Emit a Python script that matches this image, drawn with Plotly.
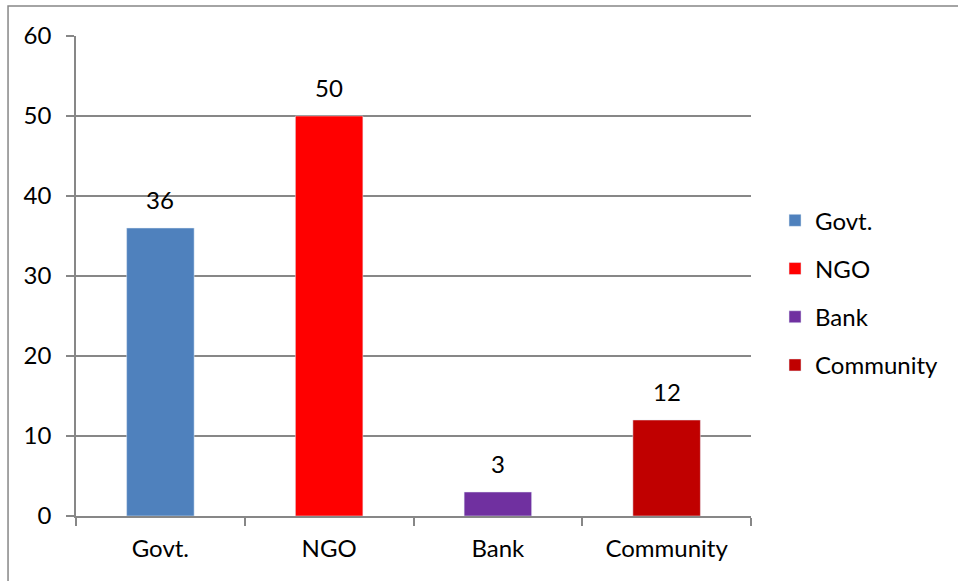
import plotly.graph_objects as go

# Funding source counts
categories = ["Govt.", "NGO", "Bank", "Community"]
values = [36, 50, 3, 12]
colors = ["#4F81BD", "#FF0000", "#7030A0", "#C00000"]
y_ticks = [0, 10, 20, 30, 40, 50, 60]

FONT = "Lato, Carlito, Calibri, sans-serif"
FS = 24
GRID = "#878787"

fig = go.Figure()
for i, (cat, val, col) in enumerate(zip(categories, values, colors)):
    fig.add_trace(go.Bar(
        x=[cat], y=[val], name=cat, marker_color=col, width=0.4,
        legendgroup=f"g{i}", showlegend=True,
    ))
    fig.add_annotation(
        x=cat, y=val, text=str(val), showarrow=False,
        yanchor="bottom", yshift=12, font=dict(size=FS, color="black", family=FONT),
    )

fig.update_layout(
    width=958, height=581,
    margin=dict(l=76, r=207, t=36, b=65),
    paper_bgcolor="white", plot_bgcolor="white",
    barmode="overlay",
    font=dict(family=FONT, size=FS, color="black"),
    legend=dict(
        x=1.0356, xanchor="left", y=0.662, yanchor="top",
        tracegroupgap=14, font=dict(size=FS), bgcolor="rgba(0,0,0,0)",
    ),
    xaxis=dict(
        categoryorder="array", categoryarray=categories,
        showline=True, linecolor=GRID, linewidth=1.5,
        ticks="outside", ticklen=8, tickcolor=GRID, tickwidth=1.5,
        tickson="boundaries", showgrid=False, ticklabelstandoff=10,
        tickfont=dict(size=FS),
    ),
    yaxis=dict(
        range=[0, 60], tickvals=y_ticks, showline=True, linecolor=GRID, linewidth=1.5,
        ticks="outside", ticklen=8, tickcolor=GRID, tickwidth=1.5,
        showgrid=True, gridcolor=GRID, gridwidth=1.5, zeroline=False,
        ticklabelstandoff=10, tickfont=dict(size=FS),
    ),
    shapes=[dict(
        type="rect", xref="paper", yref="paper",
        x0=-0.1007, x1=1.6, y0=-0.4, y1=1.0625,
        line=dict(color=GRID, width=1.5), fillcolor="rgba(0,0,0,0)", layer="below",
    )],
)

fig.write_html("out.html")
